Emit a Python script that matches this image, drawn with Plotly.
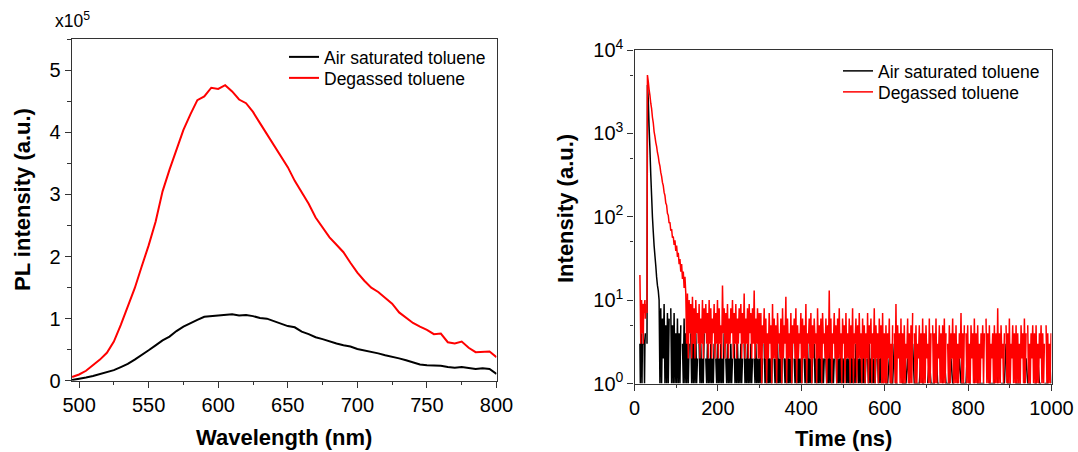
import plotly.graph_objects as go

# ---------------- Left panel: PL spectra (x10^5) ----------------
wavelength = list(range(495, 801, 5))
pl_air = [0.01, 0.025, 0.05, 0.075, 0.11, 0.14, 0.17, 0.22, 0.27, 0.34,
          0.41, 0.49, 0.57, 0.65, 0.71, 0.80, 0.87, 0.93, 0.98, 1.03,
          1.04, 1.06, 1.07, 1.07, 1.05, 1.06, 1.04, 1.01, 1.00, 0.96,
          0.91, 0.88, 0.86, 0.79, 0.75, 0.70, 0.67, 0.63, 0.60, 0.57,
          0.55, 0.51, 0.49, 0.47, 0.44, 0.41, 0.39, 0.36, 0.33, 0.30,
          0.26, 0.25, 0.25, 0.24, 0.22, 0.21, 0.22, 0.20, 0.19, 0.20,
          0.19, 0.11]
pl_degassed = [0.06, 0.10, 0.16, 0.25, 0.34, 0.45, 0.63, 0.90, 1.19, 1.49,
               1.84, 2.18, 2.56, 3.05, 3.40, 3.72, 4.04, 4.29, 4.52, 4.58,
               4.72, 4.70, 4.76, 4.66, 4.53, 4.47, 4.33, 4.15, 3.97, 3.80,
               3.63, 3.44, 3.22, 3.03, 2.85, 2.63, 2.46, 2.31, 2.19, 2.07,
               1.90, 1.74, 1.61, 1.50, 1.43, 1.34, 1.24, 1.10, 1.01, 0.93,
               0.87, 0.82, 0.75, 0.76, 0.62, 0.60, 0.63, 0.53, 0.46, 0.47,
               0.47, 0.38]

# ---------------- Right panel: decay (counts) ----------------
early_start, early_step = 13, 1
red_early = [20, 8, 3, 9, 10, 4, 9, 8, 3, 9, 7, 9, 10, 6, 9, 0, 0, 7]
black_early = [3, 1, 3, 4, 3, 1, 3, 0, 4, 3, 3, 1, 3, 4, 0, 0, 0, 3]

decay_start, decay_step = 31, 2
red_decay = [5000, 4200, 3350, 2850, 2300, 1980, 1560, 1340, 1050, 920,
             780, 700, 590, 530, 450, 405, 340, 305, 258, 236,
             196, 180, 146, 138, 110, 104, 84, 86, 68, 71,
             56, 58, 46, 52, 39, 45, 33, 37, 27, 31,
             22, 27, 18, 22, 14, 19, 12]
black_decay = [3800, 2600, 1200, 650, 320, 180, 100, 66, 45, 34,
               26, 19, 15, 13, 10]

red_tail1_start, red_tail1_step = 125, 2
red_tail1 = [3, 12, 2, 10, 4, 9, 2, 11, 3, 8, 2, 10, 4, 7, 3, 9, 2, 6, 3, 10,
             2, 8, 4, 9, 3, 7, 2, 10, 3, 8, 2, 6, 4, 9, 2, 7, 3, 10, 2, 8,
             3, 5, 2, 15, 4, 8, 2, 7, 3, 9, 2, 6, 3, 8, 4, 10, 2, 7, 3, 9,
             2, 6, 3, 8, 4, 9, 2, 7, 3, 12, 2, 6, 3, 8, 2, 9, 4, 7, 2, 8,
             3, 13, 2, 6, 3, 8, 2, 7]
red_tail2_start, red_tail2_step = 301, 2
red_tail2 = [2, 7, 1, 5, 3, 8, 2, 6, 1, 4, 2, 7, 3, 5, 1, 9, 2, 6, 2, 5,
             1, 7, 3, 4, 2, 6, 1, 8, 2, 5, 3, 11, 1, 6, 2, 4, 2, 7, 1, 5,
             3, 6, 2, 8, 1, 5, 2, 4, 3, 7, 1, 6, 2, 5, 2, 9, 1, 4, 3, 6,
             2, 7, 1, 5, 2, 6, 3, 4, 1, 8, 2, 5, 2, 6, 1, 7, 3, 4, 2, 6,
             1, 5, 2, 13, 2, 6, 1, 4, 3, 7, 2, 5, 1, 6, 2, 8, 2, 4, 1, 6,
             3, 5, 1, 7, 2, 4, 2, 6, 1, 5, 2, 8, 1, 4, 3, 6, 1, 5, 2, 7,
             2, 4, 1, 6, 2, 5, 1, 4, 2, 7, 1, 5, 3, 6, 1, 4, 2, 8, 1, 5,
             2, 4, 1, 6, 2, 5, 1, 7, 1, 4]
red_tail3_start, red_tail3_step = 601, 2
red_tail3 = [1, 5, 1, 4, 2, 6, 1, 3, 1, 5, 0, 4, 1, 9, 1, 5, 2, 4, 1, 6,
             1, 4, 1, 5, 1, 3, 2, 6, 1, 4, 1, 5, 1, 7, 0, 4, 1, 5, 1, 3,
             2, 5, 1, 4, 1, 6, 1, 4, 1, 5, 2, 3, 1, 6, 1, 4, 0, 5, 1, 4,
             1, 6, 1, 3, 2, 5, 1, 4, 1, 5, 1, 6, 1, 4, 0, 3, 1, 5, 1, 4,
             2, 6, 1, 4, 1, 5, 1, 3, 1, 4, 2, 7, 1, 4, 1, 5, 0, 4, 1, 5,
             1, 3, 1, 5, 2, 4, 1, 6, 1, 4, 1, 5, 1, 3, 1, 4, 2, 5, 1, 4,
             0, 6, 1, 4, 1, 5, 1, 3, 2, 4, 1, 5, 1, 4, 1, 8, 1, 4, 1, 5,
             2, 3, 1, 4, 0, 5, 1, 4, 1, 6, 1, 3, 2, 5, 1, 4, 1, 5, 1, 4,
             1, 3, 1, 5, 2, 4, 1, 6, 1, 4, 0, 5, 1, 3, 1, 4, 2, 5, 1, 4,
             1, 5, 1, 3, 1, 4, 2, 5, 1, 4, 1, 3, 0, 5, 1, 4, 1, 3, 1, 4]

black_tail1_start, black_tail1_step = 61, 2
black_tail1 = [1, 8, 1, 6, 2, 9, 1, 5, 1, 7, 1, 6, 0, 8, 1, 5, 1, 7, 1, 4,
               1, 6, 1, 4, 1, 5, 0, 3, 1, 6, 1, 4, 1, 5, 1, 3, 0, 4, 1, 5,
               1, 3, 1, 4, 1, 2, 0, 3, 1, 3, 1, 2, 1, 4, 0, 2, 1, 3, 1, 2,
               1, 3, 1, 2, 1, 3, 0, 2, 1, 3, 1, 2, 1, 3, 1, 2, 1, 4, 0, 2,
               1, 3, 1, 2, 1, 3, 1, 2, 0, 3, 1, 2, 1, 3, 1, 2, 1, 3, 1, 2,
               0, 3, 1, 2, 1, 3, 1, 2, 1, 3, 1, 2, 0, 2, 1, 3, 1, 2, 1, 2,
               1, 3, 1, 2, 0, 3, 1, 2, 1, 3, 1, 2, 1, 2, 1, 3, 0, 2, 1, 2,
               1, 3, 1, 2, 1, 2, 1, 3, 0, 2, 1, 2, 1, 3, 1, 2, 1, 2, 1, 3,
               0, 2, 1, 2, 1, 3, 1, 2, 1, 2, 1, 3, 0, 2, 1, 2, 1, 3, 1, 2,
               1, 2, 1, 2, 0, 3, 1, 2, 1, 2, 1, 3, 1, 2, 1, 2, 1, 2, 0, 2,
               1, 2, 1, 3, 1, 2, 1, 2, 1, 2, 0, 3, 1, 2, 1, 2, 1, 3, 1, 2,
               1, 2, 0, 2, 1, 2, 1, 2, 1, 3, 1, 2, 1, 2, 1, 3, 0, 2, 1, 2,
               1, 2, 1, 3, 1, 2, 1, 2, 0, 2, 1, 3, 1, 2, 1, 2, 1, 2, 1, 2,
               0, 2, 1, 2, 1, 3, 1, 2, 1, 2]
black_tail2_start, black_tail2_step = 603, 4
black_tail2 = [1, 1, 2, 1, 1, 3, 1, 1, 0, 2, 1, 1, 1, 2, 1, 0, 3, 1, 1, 1,
               1, 2, 1, 1, 0, 1, 2, 1, 1, 1, 3, 1, 1, 0, 1, 2, 1, 1, 1, 2,
               1, 1, 0, 1, 2, 1, 1, 1, 1, 3, 1, 1, 0, 1, 2, 1, 1, 1, 1, 1,
               0, 2, 1, 1, 1, 1, 2, 1, 0, 1, 1, 1, 3, 1, 1, 1, 0, 2, 1, 1,
               1, 1, 0, 1, 2, 1, 1, 1, 0, 1, 1, 2, 1, 1, 0, 1, 1, 1, 2, 1]

left_xticks = [500, 550, 600, 650, 700, 750, 800]
left_yticks = [0, 1, 2, 3, 4, 5]
right_xticks = [0, 200, 400, 600, 800, 1000]
right_yticks = [1, 10, 100, 1000, 10000]
right_yticktext = ["10<sup>0</sup>", "10<sup>1</sup>", "10<sup>2</sup>", "10<sup>3</sup>", "10<sup>4</sup>"]
series_names = ["Air saturated toluene", "Degassed toluene"]


def build(segments):
    xs, ys = [], []
    for start, step, vals in segments:
        for i, v in enumerate(vals):
            xs.append(start + step * i)
            ys.append(v if v > 0 else None)
    return xs, ys


red_t, red_y = build([(early_start, early_step, red_early),
                      (decay_start, decay_step, red_decay),
                      (red_tail1_start, red_tail1_step, red_tail1),
                      (red_tail2_start, red_tail2_step, red_tail2),
                      (red_tail3_start, red_tail3_step, red_tail3)])
blk_t, blk_y = build([(early_start, early_step, black_early),
                      (decay_start, decay_step, black_decay),
                      (black_tail1_start, black_tail1_step, black_tail1),
                      (black_tail2_start, black_tail2_step, black_tail2)])

FONT = "Arial, Liberation Sans, sans-serif"
AX = "#333333"
W, H = 1078, 452

fig = go.Figure()
fig.add_trace(go.Scatter(x=wavelength, y=pl_air, mode="lines", name=series_names[0],
                         line=dict(color="black", width=2), xaxis="x", yaxis="y", legend="legend"))
fig.add_trace(go.Scatter(x=wavelength, y=pl_degassed, mode="lines", name=series_names[1],
                         line=dict(color="#ff0000", width=2), xaxis="x", yaxis="y", legend="legend3"))
fig.add_trace(go.Scatter(x=blk_t, y=blk_y, mode="lines", name=series_names[0],
                         line=dict(color="black", width=1.5, simplify=False), xaxis="x2", yaxis="y2", legend="legend2"))
fig.add_trace(go.Scatter(x=red_t, y=red_y, mode="lines", name=series_names[1],
                         line=dict(color="#ff0000", width=1.5, simplify=False), xaxis="x2", yaxis="y2", legend="legend4"))

common = dict(showline=True, mirror=True, linecolor=AX, linewidth=1.2, ticks="outside",
              ticklen=6, tickwidth=1.2, tickcolor=AX, showgrid=False, zeroline=False,
              tickfont=dict(family=FONT, size=20, color="black"))


def leg(xpx, ypx):
    return dict(x=xpx / W, y=1 - ypx / H, xanchor="left", yanchor="middle",
                bgcolor="rgba(0,0,0,0)", borderwidth=0,
                font=dict(family=FONT, size=17.5, color="black"))


fig.update_layout(
    width=W, height=H, autosize=False,
    margin=dict(l=0, r=0, t=0, b=0, autoexpand=False),
    paper_bgcolor="white", plot_bgcolor="white",
    font=dict(family=FONT, color="black"),
    xaxis=dict(domain=[71.7 / W, 496.5 / W], range=[494.7, 800], tickmode="array",
               tickvals=left_xticks, minor=dict(dtick=25, tick0=500, ticklen=3.5, ticks="outside", tickcolor=AX),
               anchor="y", **common),
    yaxis=dict(domain=[1 - 380.7 / H, 1 - 39.3 / H], range=[0, 5.5], tickmode="array",
               tickvals=left_yticks, minor=dict(dtick=0.5, tick0=0, ticklen=3.5, ticks="outside", tickcolor=AX),
               anchor="x", **common),
    xaxis2=dict(domain=[634.5 / W, 1051.5 / W], range=[0, 1000], tickmode="array",
                tickvals=right_xticks, minor=dict(dtick=100, tick0=0, ticklen=3.5, ticks="outside", tickcolor=AX),
                anchor="y2", **common),
    yaxis2=dict(domain=[1 - 383.5 / H, 1 - 50 / H], type="log", range=[0, 4], tickmode="array",
                tickvals=right_yticks, ticktext=right_yticktext,
                minor=dict(tickmode="array", tickvals=[5, 50, 500, 5000], ticklen=3.5, ticks="outside", tickcolor=AX),
                anchor="x2", **common),
    legend=leg(284, 57),
    legend3=leg(284, 78),
    legend2=leg(838, 71),
    legend4=leg(838, 92),
    showlegend=True,
    annotations=[
        dict(text="x10<sup>5</sup>", x=53 / W, y=1 - 33 / H, xref="paper", yref="paper",
             xanchor="left", yanchor="bottom", showarrow=False, font=dict(family=FONT, size=17.5)),
        dict(text="<b>Wavelength (nm)</b>", x=284 / W, y=1 - 437 / H, xref="paper", yref="paper",
             xanchor="center", yanchor="middle", showarrow=False, font=dict(family=FONT, size=22)),
        dict(text="<b>PL intensity (a.u.)</b>", x=22 / W, y=1 - 200 / H, xref="paper", yref="paper",
             xanchor="center", yanchor="middle", textangle=-90, showarrow=False, font=dict(family=FONT, size=22)),
        dict(text="<b>Time (ns)</b>", x=843 / W, y=1 - 438 / H, xref="paper", yref="paper",
             xanchor="center", yanchor="middle", showarrow=False, font=dict(family=FONT, size=22)),
        dict(text="<b>Intensity (a.u.)</b>", x=565 / W, y=1 - 209 / H, xref="paper", yref="paper",
             xanchor="center", yanchor="middle", textangle=-90, showarrow=False, font=dict(family=FONT, size=22)),
    ],
)

fig.write_html("out.html")
